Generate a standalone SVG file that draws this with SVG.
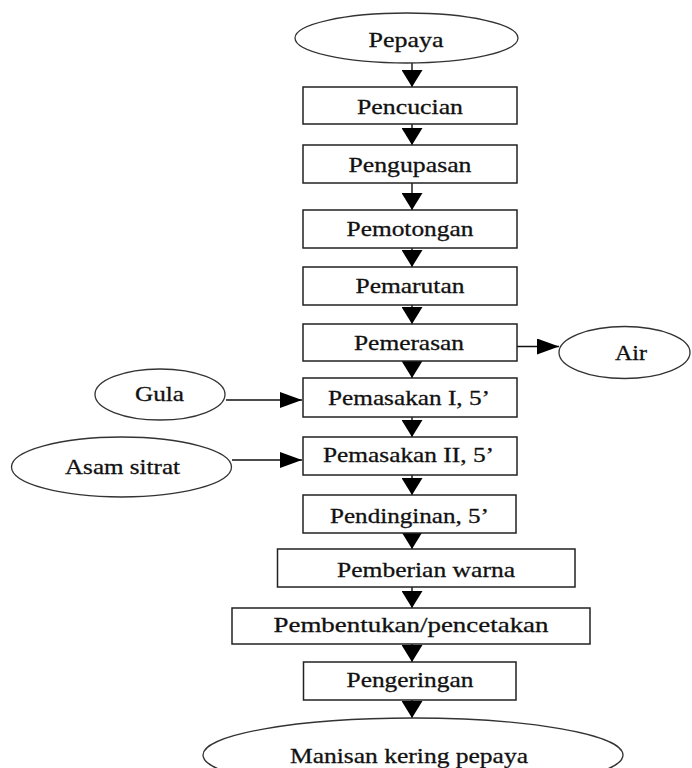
<svg xmlns="http://www.w3.org/2000/svg" width="692" height="768" viewBox="0 0 692 768">
<style>
.bg{fill:#fff}
.box{fill:#fff;stroke:#222;stroke-width:1.5}
.ell{fill:#fff;stroke:#333;stroke-width:1.3}
.t{font-family:"Liberation Serif","Times New Roman",serif;font-size:22px;fill:#111;stroke:#111;stroke-width:0.3;text-anchor:middle}
.c{stroke:#111;stroke-width:1.4;fill:none}
</style>
<defs>
<marker id="av" viewBox="0 0 17 21" refX="17" refY="10.5" markerWidth="17" markerHeight="21" markerUnits="userSpaceOnUse" orient="auto"><path d="M0,0 L17,10.5 L0,21 z" fill="#000"/></marker>
<marker id="ah" viewBox="0 0 22 16" refX="22" refY="8" markerWidth="22" markerHeight="16" markerUnits="userSpaceOnUse" orient="auto"><path d="M0,0 L22,8 L0,16 z" fill="#000"/></marker>
</defs>
<rect class="bg" x="0" y="0" width="692" height="768"/>
<g id="connectors">
<line class="c" x1="412" y1="63" x2="412" y2="87" marker-end="url(#av)"/>
<line class="c" x1="412" y1="124" x2="412" y2="145" marker-end="url(#av)"/>
<line class="c" x1="412" y1="183" x2="412" y2="210" marker-end="url(#av)"/>
<line class="c" x1="412" y1="248" x2="412" y2="267" marker-end="url(#av)"/>
<line class="c" x1="412" y1="305" x2="412" y2="324" marker-end="url(#av)"/>
<line class="c" x1="412" y1="361" x2="412" y2="378" marker-end="url(#av)"/>
<line class="c" x1="412" y1="417" x2="412" y2="437" marker-end="url(#av)"/>
<line class="c" x1="412" y1="475" x2="412" y2="495" marker-end="url(#av)"/>
<line class="c" x1="412" y1="533" x2="412" y2="549" marker-end="url(#av)"/>
<line class="c" x1="412" y1="587" x2="412" y2="608" marker-end="url(#av)"/>
<line class="c" x1="412" y1="644" x2="412" y2="662" marker-end="url(#av)"/>
<line class="c" x1="412" y1="700" x2="412" y2="718" marker-end="url(#av)"/>
<line class="c" x1="517" y1="346.5" x2="559" y2="346.5" marker-end="url(#ah)"/>
<line class="c" x1="226" y1="400" x2="302" y2="400" marker-end="url(#ah)"/>
<line class="c" x1="232" y1="460" x2="302" y2="460" marker-end="url(#ah)"/>
</g>
<g id="pepaya"><ellipse class="ell" cx="406.5" cy="38" rx="111.5" ry="25"/><text class="t" x="406" y="46.5" textLength="75" lengthAdjust="spacingAndGlyphs">Pepaya</text></g>
<g id="pencucian"><rect class="box" x="303" y="87" width="214" height="37"/><text class="t" x="410" y="114" textLength="106" lengthAdjust="spacingAndGlyphs">Pencucian</text></g>
<g id="pengupasan"><rect class="box" x="303" y="145" width="214" height="38"/><text class="t" x="410" y="171.5" textLength="123" lengthAdjust="spacingAndGlyphs">Pengupasan</text></g>
<g id="pemotongan"><rect class="box" x="303" y="210" width="214" height="38"/><text class="t" x="410" y="236" textLength="127" lengthAdjust="spacingAndGlyphs">Pemotongan</text></g>
<g id="pemarutan"><rect class="box" x="303" y="267" width="214" height="38"/><text class="t" x="410" y="292.5" textLength="109" lengthAdjust="spacingAndGlyphs">Pemarutan</text></g>
<g id="pemerasan"><rect class="box" x="303" y="324" width="214" height="37"/><text class="t" x="409" y="350" textLength="110" lengthAdjust="spacingAndGlyphs">Pemerasan</text></g>
<g id="air"><ellipse class="ell" cx="624.5" cy="352.5" rx="65.5" ry="26"/><text class="t" x="631" y="360" textLength="32" lengthAdjust="spacingAndGlyphs">Air</text></g>
<g id="gula"><ellipse class="ell" cx="160" cy="394.5" rx="65" ry="25.5"/><text class="t" x="159.5" y="400.5" textLength="49" lengthAdjust="spacingAndGlyphs">Gula</text></g>
<g id="pemasakan1"><rect class="box" x="303" y="378" width="214" height="39"/><text class="t" x="409" y="405" textLength="162" lengthAdjust="spacingAndGlyphs">Pemasakan I, 5’</text></g>
<g id="asam-sitrat"><ellipse class="ell" cx="121.5" cy="467" rx="110" ry="30"/><text class="t" x="122.5" y="473.5" textLength="115" lengthAdjust="spacingAndGlyphs">Asam sitrat</text></g>
<g id="pemasakan2"><rect class="box" x="303" y="437" width="214" height="38"/><text class="t" x="408.5" y="461.5" textLength="171" lengthAdjust="spacingAndGlyphs">Pemasakan II, 5’</text></g>
<g id="pendinginan"><rect class="box" x="303" y="495" width="213" height="38"/><text class="t" x="409.5" y="522.5" textLength="159" lengthAdjust="spacingAndGlyphs">Pendinginan, 5’</text></g>
<g id="pemberian-warna"><rect class="box" x="277.5" y="549" width="297.5" height="38"/><text class="t" x="426" y="576.5" textLength="178" lengthAdjust="spacingAndGlyphs">Pemberian warna</text></g>
<g id="pembentukan"><rect class="box" x="232" y="608" width="358" height="36"/><text class="t" x="411" y="631.5" textLength="275" lengthAdjust="spacingAndGlyphs">Pembentukan/pencetakan</text></g>
<g id="pengeringan"><rect class="box" x="303.5" y="662" width="212.5" height="38"/><text class="t" x="410" y="686.5" textLength="127" lengthAdjust="spacingAndGlyphs">Pengeringan</text></g>
<g id="manisan"><ellipse class="ell" cx="413" cy="755" rx="210" ry="37"/><text class="t" x="409" y="763" textLength="238" lengthAdjust="spacingAndGlyphs">Manisan kering pepaya</text></g>
</svg>
